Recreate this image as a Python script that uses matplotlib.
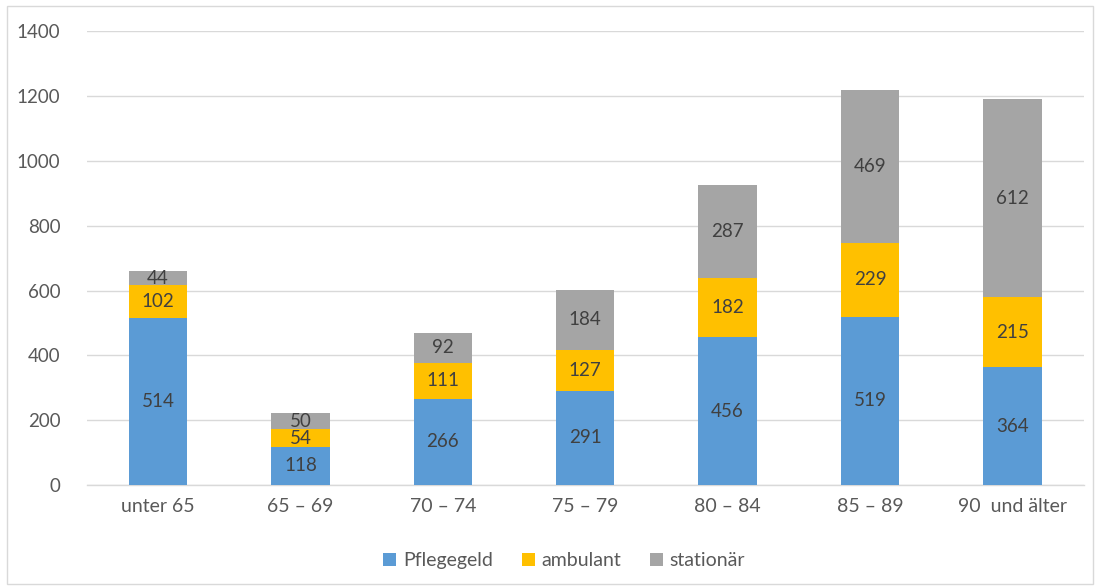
import matplotlib
matplotlib.use("Agg")
import matplotlib.pyplot as plt
from matplotlib.patches import Rectangle
import numpy as np

plt.rcParams['font.family'] = ['Lato', 'DejaVu Sans']

categories = ["unter 65", "65 \u2013 69", "70 \u2013 74", "75 \u2013 79", "80 \u2013 84", "85 \u2013 89", "90  und \u00e4lter"]
pflegegeld = [514, 118, 266, 291, 456, 519, 364]
ambulant = [102, 54, 111, 127, 182, 229, 215]
stationaer = [44, 50, 92, 184, 287, 469, 612]

series = [("Pflegegeld", pflegegeld, "#5B9BD5"),
          ("ambulant", ambulant, "#FFC000"),
          ("station\u00e4r", stationaer, "#A5A5A5")]

fig = plt.figure(figsize=(11, 5.88), dpi=100)
ax = fig.add_axes([0.079, 0.175, 0.906, 0.772])

x = np.arange(len(categories))
bottom = np.zeros(len(categories))
for name, vals, color in series:
    vals = np.array(vals, dtype=float)
    ax.bar(x, vals, width=0.41, bottom=bottom, color=color, label=name, zorder=3)
    for xi, b, v in zip(x, bottom, vals):
        ax.text(xi, b + v / 2, f"{int(v)}", ha="center", va="center",
                fontsize=13.5, color="#404040", zorder=4)
    bottom += vals

ax.set_xlim(-0.5, len(categories) - 0.5)
ax.set_ylim(0, 1400)
ax.set_yticks(np.arange(0, 1401, 200))
ax.set_xticks(x)
ax.set_xticklabels(categories)
ax.tick_params(axis="both", length=0, labelsize=13.5, labelcolor="#595959")
ax.tick_params(axis="x", labelsize=14)
ax.tick_params(axis="y", pad=19)
ax.tick_params(axis="x", pad=9)
ax.grid(axis="y", color="#D9D9D9", linewidth=1, zorder=0)
for s in ["top", "right", "left"]:
    ax.spines[s].set_visible(False)
ax.spines["bottom"].set_color("#D9D9D9")
ax.spines["bottom"].set_linewidth(1)

leg = fig.legend(loc="center", bbox_to_anchor=(0.513, 0.047), ncol=3, frameon=False,
                 fontsize=14, handlelength=0.65, handleheight=0.65,
                 handletextpad=0.35, columnspacing=1.5)
for t in leg.get_texts():
    t.set_color("#595959")

fig.patches.append(Rectangle((0.006, 0.006), 0.988, 0.983, transform=fig.transFigure,
                             fill=False, edgecolor="#D9D9D9", linewidth=1))

fig.savefig("out.png", dpi=100, facecolor="white")
